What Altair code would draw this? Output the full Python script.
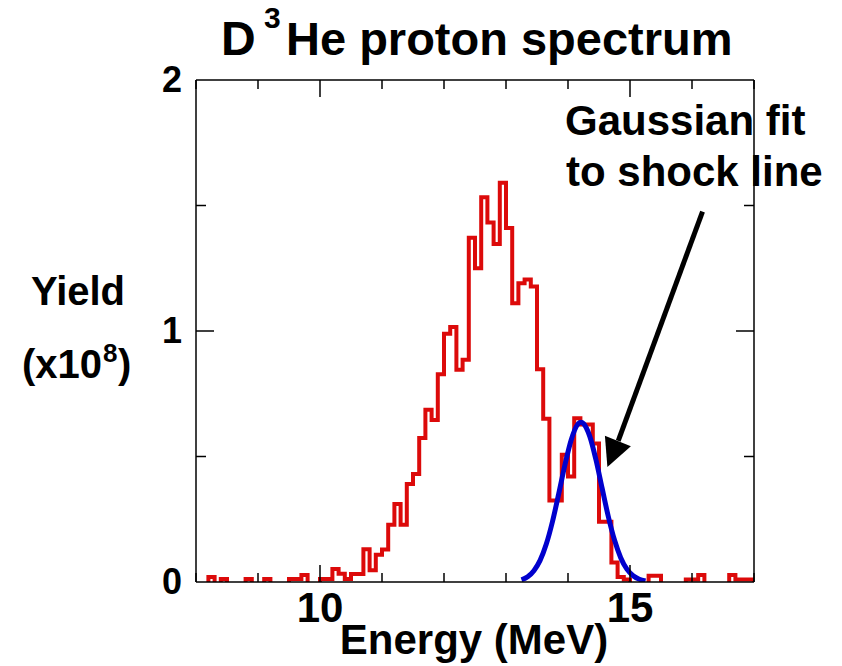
import altair as alt
import pandas as pd

# ---------------- data ----------------
energy_start = 8.0   # MeV, left edge of first bin
bin_width = 0.1      # MeV
# proton yield per bin (x1e8), bins 8.0-8.1, 8.1-8.2, ..., 16.9-17.0
yield_bins = [
    0.0, 0.0, 0.02, 0.0, 0.012, 0.0, 0.0, 0.0, 0.012, 0.0,          # 8.0 - 8.9
    0.0, 0.012, 0.0, 0.0, 0.0, 0.012, 0.012, 0.028, 0.0, 0.0,       # 9.0 - 9.9
    0.012, 0.012, 0.052, 0.033, 0.012, 0.032, 0.032, 0.13, 0.047, 0.109,  # 10.0 - 10.9
    0.129, 0.228, 0.311, 0.228, 0.39, 0.43, 0.574, 0.686, 0.645, 0.828,   # 11.0 - 11.9
    0.989, 1.016, 0.846, 0.885, 1.372, 1.25, 1.533, 1.432, 1.347, 1.591, # 12.0 - 12.9
    1.41, 1.111, 1.19, 1.205, 1.177, 0.848, 0.65, 0.325, 0.325, 0.507,    # 13.0 - 13.9
    0.42, 0.652, 0.627, 0.627, 0.552, 0.24, 0.24, 0.078, 0.02, 0.01,      # 14.0 - 14.9
    0.0, 0.0, 0.0, 0.025, 0.025, 0.0, 0.0, 0.0, 0.0, 0.01,                # 15.0 - 15.9
    0.01, 0.028, 0.0, 0.0, 0.0, 0.0, 0.028, 0.01, 0.01, 0.01,             # 16.0 - 16.9
]

# Gaussian fit to the shock line
gauss_energy = [13.25, 13.35, 13.45, 13.55, 13.65, 13.75, 13.85, 13.95, 14.05, 14.15,
                14.21, 14.25, 14.35, 14.45, 14.55, 14.65, 14.75, 14.85, 14.95, 15.05,
                15.15, 15.25]
gauss_yield = [0.009, 0.021, 0.045, 0.086, 0.151, 0.241, 0.351, 0.466, 0.565, 0.626,
               0.636, 0.631, 0.581, 0.488, 0.374, 0.261, 0.167, 0.097, 0.051, 0.025,
               0.011, 0.004]

# arrow (tail -> head base), in data units
arrow_energy = [16.17, 14.81]
arrow_yield = [1.476, 0.562]
arrow_tip_center = [14.72, 0.51]

x_minor_ticks = [8, 9, 11, 12, 13, 14, 16, 17]
x_major_ticks = [10, 15]
y_minor_ticks = [0.5, 1.5]
y_major_ticks = [1]
x_labels = [10, 15]
y_labels = [0, 1, 2]

# ---------------- layout ----------------
W, H = 558, 502
FONT = "Liberation Sans"
RED = "#dc0a0a"
BLUE = "#0000cd"

xs = alt.Scale(domain=[8, 17], nice=False, zero=False)
ys = alt.Scale(domain=[0, 2], nice=False, zero=False)

# build step-outline rows from bins; empty bins are left undrawn
n = len(yield_bins)
edges = [round(energy_start + bin_width * k, 2) for k in range(n + 1)]
rows = []
seg = 0
order = 0
i = 0
while i < n:
    if yield_bins[i] > 0:
        j = i
        while j + 1 < n and yield_bins[j + 1] > 0:
            j += 1
        rows.append(dict(E=edges[i], Y=0.0, seg=seg, o=order)); order += 1
        for k in range(i, j + 1):
            rows.append(dict(E=edges[k], Y=yield_bins[k], seg=seg, o=order)); order += 1
        rows.append(dict(E=edges[j + 1], Y=0.0, seg=seg, o=order)); order += 1
        seg += 1
        i = j + 1
    else:
        i += 1
hist_df = pd.DataFrame(rows)

hist = alt.Chart(hist_df).mark_line(
    color=RED, strokeWidth=4, interpolate="step-after", clip=True,
    strokeJoin="miter", strokeCap="butt"
).encode(
    x=alt.X("E:Q", scale=xs, axis=None),
    y=alt.Y("Y:Q", scale=ys, axis=None),
    detail="seg:N",
    order="o:Q",
)

gauss_df = pd.DataFrame({"E": gauss_energy, "Y": gauss_yield})
gauss = alt.Chart(gauss_df).mark_line(
    color=BLUE, strokeWidth=5, interpolate="monotone", clip=True
).encode(x=alt.X("E:Q", scale=xs, axis=None), y=alt.Y("Y:Q", scale=ys, axis=None))

# tick labels placed through the scales
ylab_df = pd.DataFrame({"v": y_labels, "t": [str(v) for v in y_labels]})
ylabels = alt.Chart(ylab_df).mark_text(
    font=FONT, fontSize=36, fontWeight="bold", color="black",
    align="right", baseline="middle", dy=1
).encode(y=alt.Y("v:Q", scale=ys, axis=None), x=alt.value(-14), text="t:N")

xlab_df = pd.DataFrame({"v": x_labels, "t": [str(v) for v in x_labels]})
xlabels = alt.Chart(xlab_df).mark_text(
    font=FONT, fontSize=42, fontWeight="bold", color="black",
    align="center", baseline="alphabetic"
).encode(x=alt.X("v:Q", scale=xs, axis=None), y=alt.value(H + 40), text="t:N")

one = pd.DataFrame({"a": [0]})

def tick_layer(values, orient, length):
    df = pd.DataFrame({"v": values})
    base = alt.Chart(df).mark_rule(color="black", strokeWidth=1.5)
    if orient == "bottom":
        return base.encode(x=alt.X("v:Q", scale=xs, axis=None), y=alt.value(H), y2=alt.value(H - length))
    if orient == "top":
        return base.encode(x=alt.X("v:Q", scale=xs, axis=None), y=alt.value(0), y2=alt.value(length))
    if orient == "left":
        return base.encode(y=alt.Y("v:Q", scale=ys, axis=None), x=alt.value(0), x2=alt.value(length))
    return base.encode(y=alt.Y("v:Q", scale=ys, axis=None), x=alt.value(W - length), x2=alt.value(W))

ticks = [
    tick_layer(x_minor_ticks, "bottom", 9), tick_layer(x_major_ticks, "bottom", 17),
    tick_layer(x_minor_ticks, "top", 9), tick_layer(x_major_ticks, "top", 17),
    tick_layer(y_minor_ticks, "left", 10), tick_layer(y_major_ticks, "left", 18),
    tick_layer(y_minor_ticks, "right", 10), tick_layer(y_major_ticks, "right", 18),
]

frame_base = alt.Chart(one).mark_rule(color="black", strokeWidth=1.5)
frame = [
    frame_base.encode(x=alt.value(0), x2=alt.value(W), y=alt.value(0)),
    frame_base.encode(x=alt.value(0), x2=alt.value(W), y=alt.value(H)),
    frame_base.encode(y=alt.value(0), y2=alt.value(H), x=alt.value(0)),
    frame_base.encode(y=alt.value(0), y2=alt.value(H), x=alt.value(W)),
]

arrow_df = pd.DataFrame({"E": [arrow_energy[0]], "Y": [arrow_yield[0]],
                         "E2": [arrow_energy[1]], "Y2": [arrow_yield[1]]})
arrow_line = alt.Chart(arrow_df).mark_rule(color="black", strokeWidth=5, strokeCap="butt").encode(
    x=alt.X("E:Q", scale=xs, axis=None), y=alt.Y("Y:Q", scale=ys, axis=None), x2="E2:Q", y2="Y2:Q")
head_df = pd.DataFrame({"E": [arrow_tip_center[0]], "Y": [arrow_tip_center[1]]})
arrow_head = alt.Chart(head_df).mark_point(
    shape="M0,-1L1,1L-1,1Z", filled=True, size=784, angle=202, color="black",
    opacity=1, strokeWidth=0
).encode(x=alt.X("E:Q", scale=xs, axis=None), y=alt.Y("Y:Q", scale=ys, axis=None))

def txt(s, x, y, size, align="left"):
    return alt.Chart(one).mark_text(
        text=s, font=FONT, fontSize=size, fontWeight="bold", color="black",
        align=align, baseline="alphabetic"
    ).encode(x=alt.value(x), y=alt.value(y))

texts = [
    txt("D", 25, -25, 48),
    txt("3", 68, -52, 30),
    txt("He proton spectrum", 90, -25, 47),
    txt("Yield", -118, 225, 40, "center"),
    txt("(x10", -94, 298, 40, "right"),
    txt("8", -93, 282, 26),
    txt(")", -78, 298, 40),
    txt("Energy (MeV)", 278, 574, 42, "center"),
    txt("Gaussian fit", 369, 55, 42),
    txt("to shock line", 370, 106, 42),
]

chart = alt.layer(
    hist, gauss, ylabels, xlabels, *ticks, *frame, arrow_line, arrow_head, *texts
).properties(
    width=W, height=H,
    padding={"left": 196, "top": 80, "right": 88, "bottom": 84},
    autosize=alt.AutoSizeParams(type="none"),
    background="white",
).configure_view(stroke=None)

chart.save("out.html", embed_options={"renderer": "svg", "actions": False})
